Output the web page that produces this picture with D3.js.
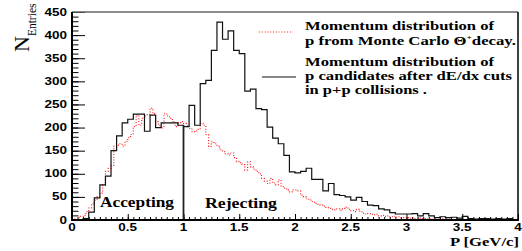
<!DOCTYPE html>
<html lang="en">

<head>
    <meta charset="utf-8">
    <title>Momentum distribution</title>
    <script type="text/javascript" src="https://d3js.org/d3.v7.min.js"></script>
    <style>
        body { margin: 0; background: #fff; }
        .tick line { stroke: #000; stroke-width: 1; }
        .num { font-family: "Liberation Sans", Arial, sans-serif; font-weight: bold; font-size: 10px; fill: #000; }
        .serif { font-family: "Liberation Serif", "Times New Roman", serif; font-weight: bold; fill: #000; }
    </style>
</head>

<body>
    <div id="container"></div>
    <script type="text/javascript">
        var w = 522;
        var h = 251;

        // black histogram: p candidates after dE/dx cuts, bins of 0.05 GeV/c
        var blackBinWidth = 0.05;
        var blackCounts = [
            0, 0, 3, 17, 48, 76, 95, 150, 182, 210, 218, 229, 229, 192, 227, 200, 210, 210, 210, 205,
            202, 248, 205, 295, 302, 367, 428, 391, 409, 367, 360, 279, 283, 241, 239, 201, 177, 165, 140, 104,
            102, 105, 112, 88, 88, 63, 79, 55, 53, 50, 43, 49, 40, 32, 31, 24, 22, 16, 13, 13,
            13, 14, 9, 14, 9, 5, 7, 5, 6, 4, 8, 3, 2, 3, 3, 2, 3, 2, 3, 1
        ];

        // red dotted histogram: p from Monte Carlo Theta+ decay, bins of 0.025 GeV/c
        var redBinWidth = 0.025;
        var redCounts = [
            1, 2, 5, 8, 10, 18, 26, 35, 43, 50, 58, 75, 105, 112, 118, 160, 162, 165, 160, 170,
            178, 185, 202, 227, 205, 220, 225, 228, 242, 230, 213, 205, 199, 231, 225, 220, 213, 202, 210, 213,
            209, 205, 198, 191, 193, 196, 209, 205, 185, 159, 169, 165, 160, 152, 148, 143, 141, 145, 135, 126,
            124, 120, 108, 126, 115, 110, 105, 100, 90, 84, 79, 90, 80, 76, 87, 72, 69, 65, 61, 65,
            65, 63, 54, 50, 46, 43, 40, 36, 34, 32, 30, 27, 25, 23, 22, 24, 21, 25, 28, 23,
            20, 18, 23, 19, 15, 13, 14, 12, 11, 12, 9, 10, 8, 9, 7, 8, 6, 7, 5, 6,
            5, 4, 5, 3, 4, 3, 3, 2, 3, 2, 2, 1, 2, 1, 1, 2, 1, 1, 1, 0,
            1, 1, 0, 1, 0, 0, 1, 0, 0, 0, 1, 0, 0, 0, 0, 0, 0, 0, 0, 0
        ];

        var xTickLabels = ["0", "0.5", "1", "1.5", "2", "2.5", "3", "3.5", "4"];
        var yTickLabels = ["0", "50", "100", "150", "200", "250", "300", "350", "400", "450"];

        var cutMomentum = 1.0;   // Accepting / Rejecting boundary
        var cutHeight = 205;

        var legendRed = ["Momentum distribution of", "p from Monte Carlo \u0398", "+", "decay."];
        var legendBlack = ["Momentum distribution of", "p candidates after dE/dx cuts", "in p+p collisions ."];

        const svg = d3.select("div#container")
            .append("svg")
            .attr("width", w)
            .attr("height", h)
            .style("background-color", "#fff");

        var x = d3.scaleLinear().domain([0, 4]).range([72, 518]);
        var y = d3.scaleLinear().domain([0, 450]).range([220, 12]);

        // step outline of a histogram
        function histPoints(counts, bw) {
            var pts = counts.map((c, i) => [i * bw, c]);
            pts.push([counts.length * bw, counts[counts.length - 1]]);
            return pts;
        }
        var step = d3.line()
            .x((d) => x(d[0]))
            .y((d) => y(d[1]))
            .curve(d3.curveStepAfter);

        // minor + major ticks
        var xMinor = d3.range(0, 4.0001, 0.05);
        var yMinor = d3.range(0, 450.001, 10);
        var xMajor = xTickLabels.map(Number);
        var yMajor = yTickLabels.map(Number);

        svg.append("g").attr("transform", "translate(0,220)")
            .call(d3.axisBottom(x).tickValues(xMinor).tickSize(-3).tickSizeOuter(0).tickFormat(""))
            .call((g) => g.select(".domain").remove());
        svg.append("g").attr("transform", "translate(0,220)")
            .call(d3.axisBottom(x).tickValues(xMajor).tickSize(-6).tickSizeOuter(0).tickFormat(""))
            .call((g) => g.select(".domain").remove());
        svg.append("g").attr("transform", "translate(72,0)")
            .call(d3.axisLeft(y).tickValues(yMinor).tickSize(-6.5).tickSizeOuter(0).tickFormat(""))
            .call((g) => g.select(".domain").remove());
        svg.append("g").attr("transform", "translate(72,0)")
            .call(d3.axisLeft(y).tickValues(yMajor).tickSize(-13).tickSizeOuter(0).tickFormat(""))
            .call((g) => g.select(".domain").remove());

        // histograms
        svg.append("path")
            .attr("d", step(histPoints(redCounts, redBinWidth)))
            .attr("fill", "none")
            .attr("stroke", "#ff2020")
            .attr("stroke-width", 1.2)
            .attr("stroke-dasharray", "1,1.8");

        svg.append("path")
            .attr("d", step(histPoints(blackCounts, blackBinWidth)))
            .attr("fill", "none")
            .attr("stroke", "#111")
            .attr("stroke-width", 1.2);

        // cut line at p = 1 GeV/c
        svg.append("line")
            .attr("x1", x(cutMomentum)).attr("x2", x(cutMomentum))
            .attr("y1", y(cutHeight)).attr("y2", y(0))
            .attr("stroke", "#222")
            .attr("stroke-width", 1.8);

        // frame
        svg.append("line").attr("x1", 72).attr("x2", 518).attr("y1", 12).attr("y2", 12)
            .attr("stroke", "#666").attr("stroke-width", 1.5);
        svg.append("line").attr("x1", 518).attr("x2", 518).attr("y1", 12).attr("y2", 220)
            .attr("stroke", "#000").attr("stroke-width", 1.5);
        svg.append("line").attr("x1", 72).attr("x2", 72).attr("y1", 12).attr("y2", 221)
            .attr("stroke", "#000").attr("stroke-width", 2);
        svg.append("line").attr("x1", 71).attr("x2", 519).attr("y1", 220).attr("y2", 220)
            .attr("stroke", "#000").attr("stroke-width", 2);

        // tick labels (wide bold sans)
        svg.selectAll("text.xl")
            .data(xTickLabels)
            .enter()
            .append("text")
            .attr("class", "num xl")
            .attr("text-anchor", "middle")
            .attr("transform", (d) => "translate(" + x(+d) + ",231) scale(1.35,1)")
            .text((d) => d);

        svg.selectAll("text.yl")
            .data(yTickLabels)
            .enter()
            .append("text")
            .attr("class", "num yl")
            .attr("text-anchor", "end")
            .attr("transform", (d) => "translate(67," + (y(+d) + 3.6) + ") scale(1.35,1)")
            .text((d) => d);

        // axis titles
        var yt = svg.append("text")
            .attr("class", "serif")
            .attr("transform", "translate(28.5,52) rotate(-90)")
            .style("font-weight", "normal");
        yt.append("tspan").style("font-size", "22px").text("N");
        yt.append("tspan").style("font-size", "11.5px").attr("dy", 7.5).text("Entries");

        svg.append("text")
            .attr("class", "serif")
            .attr("x", 519).attr("y", 246)
            .attr("text-anchor", "end")
            .style("font-size", "13px")
            .attr("textLength", 69)
            .attr("lengthAdjust", "spacingAndGlyphs")
            .text("P [GeV/c]");

        // region labels
        svg.append("text").attr("class", "serif")
            .attr("x", 100).attr("y", 206.5)
            .style("font-size", "14px")
            .attr("textLength", 74).attr("lengthAdjust", "spacingAndGlyphs")
            .text("Accepting");
        svg.append("text").attr("class", "serif")
            .attr("x", 205).attr("y", 207.5)
            .style("font-size", "14px")
            .attr("textLength", 72).attr("lengthAdjust", "spacingAndGlyphs")
            .text("Rejecting");

        // legend
        svg.append("line")
            .attr("x1", 259).attr("x2", 293).attr("y1", 32).attr("y2", 32)
            .attr("stroke", "#ff2020").attr("stroke-width", 1.2).attr("stroke-dasharray", "1,1.8");
        svg.append("line")
            .attr("x1", 262).attr("x2", 296).attr("y1", 77).attr("y2", 77)
            .attr("stroke", "#111").attr("stroke-width", 1.2);

        function legendLine(txt, yy, len) {
            return svg.append("text").attr("class", "serif")
                .attr("x", 305).attr("y", yy)
                .style("font-size", "12.5px")
                .attr("textLength", len).attr("lengthAdjust", "spacingAndGlyphs")
                .text(txt);
        }
        legendLine(legendRed[0], 29.5, 189);
        var l2 = svg.append("text").attr("class", "serif")
            .attr("x", 305).attr("y", 44.5)
            .style("font-size", "12.5px")
            .attr("textLength", 211).attr("lengthAdjust", "spacingAndGlyphs");
        l2.append("tspan").text(legendRed[1]);
        l2.append("tspan").attr("dy", -5).style("font-size", "7px").text(legendRed[2]);
        l2.append("tspan").attr("dy", 5).text(legendRed[3]);

        legendLine(legendBlack[0], 66, 189);
        legendLine(legendBlack[1], 80, 207);
        legendLine(legendBlack[2], 93.5, 122);
    </script>
</body>

</html>
